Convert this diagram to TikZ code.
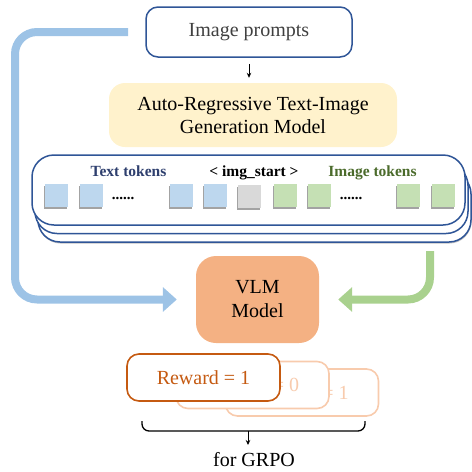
\documentclass[tikz,border=0pt]{standalone}
\usepackage{fontspec}
\setmainfont{Liberation Serif}
\usetikzlibrary{arrows.meta,shadows}
\definecolor{navy}{HTML}{2F5597}
\definecolor{dgray}{HTML}{404040}
\definecolor{yel}{HTML}{FFF2CC}
\definecolor{tokb}{HTML}{BDD7EE}
\definecolor{tokg}{HTML}{C5E0B4}
\definecolor{tokgr}{HTML}{D9D9D9}
\definecolor{flowb}{HTML}{9DC3E6}
\definecolor{flowg}{HTML}{A9D18E}
\definecolor{vlmc}{HTML}{F4B183}
\definecolor{rorange}{HTML}{C55A11}
\definecolor{lsal}{HTML}{F8CBAD}
\definecolor{ttnavy}{HTML}{2E3F6E}
\definecolor{itgreen}{HTML}{4B6B2B}
\begin{document}
\begin{tikzpicture}[x=1pt,y=-1pt,
  box/.style={rectangle, rounded corners=12pt, draw=navy, line width=1.5pt, fill=white, inner sep=0pt},
  stackbox/.style={rectangle, rounded corners=22pt, draw=navy, line width=1.5pt, fill=white, inner sep=0pt, minimum width=433pt, minimum height=70pt},
  tok/.style={rectangle, minimum size=23pt, inner sep=0pt, drop shadow={shadow xshift=-0.6pt, shadow yshift=-2pt, fill=black!45, opacity=0.8}},
  tlab/.style={font=\fontsize{15.5}{18}\selectfont\bfseries, inner sep=0pt, anchor=base},
  dotsn/.style={font=\fontsize{15}{18}\selectfont\bfseries, inner sep=0pt, anchor=base},
  rw/.style={rectangle, rounded corners=12pt, line width=1.6pt, fill=white, minimum width=153pt, minimum height=47pt, font=\fontsize{20}{24}\selectfont},
  flow/.style={line width=8pt, rounded corners=22pt, -{Triangle[length=14pt,width=24pt]}}
]
\useasboundingbox (0,0) rectangle (472,472);

% top
\node[box, minimum width=206pt, minimum height=50pt, text=dgray, font=\fontsize{20}{24}\selectfont] (prompts) at (249,32) {Image prompts};
\node[rectangle, rounded corners=16pt, fill=yel, minimum width=288pt, minimum height=64pt, align=center, inner sep=0pt, font=\fontsize{20}{23}\selectfont] (gen) at (253,115) {Auto-Regressive Text-Image\\Generation Model};
\draw[line width=0.8pt, shorten <=6pt, shorten >=5pt, -{Stealth[length=5pt,width=4.5pt]}] (prompts.south) -- (prompts.south |- gen.north);

% stack
\node[stackbox, drop shadow={shadow xshift=0.5pt, shadow yshift=-1.5pt, fill=black!40, opacity=0.6}] (s3) at (254.5,207) {};
\node[stackbox] (s2) at (251.5,198.5) {};
\node[stackbox] (s1) at (248.5,190) {};

\node[tlab, text=ttnavy] (lt) at (128.5,176) {Text tokens};
\node[tlab] (ls) at (254,176) {< img\_start >};
\node[tlab, text=itgreen] (li) at (372.5,176.5) {Image tokens};

\node[tok, fill=tokb] (t1) at (56.5,195.5) {};
\node[tok, fill=tokb] (t2) at (91.5,195.5) {};
\node[dotsn] (d1) at (123,199) {......};
\node[tok, fill=tokb] (t3) at (181,195.5) {};
\node[tok, fill=tokb] (t4) at (215.5,195.5) {};
\node[tok, fill=tokgr] (t5) at (249.5,196.5) {};
\node[tok, fill=tokg] (t6) at (285,195.5) {};
\node[tok, fill=tokg] (t7) at (319,195.5) {};
\node[dotsn] (d2) at (351,199) {......};
\node[tok, fill=tokg] (t8) at (408.5,195.5) {};
\node[tok, fill=tokg] (t9) at (443.5,195.5) {};

% VLM
\node[rectangle, rounded corners=20pt, fill=vlmc, minimum width=123pt, minimum height=87pt, align=center, inner sep=0pt, font=\fontsize{20}{24}\selectfont] (vlm) at (257.5,299.5) {VLM\\Model};

\coordinate (bstart) at (128,32);
\coordinate (gstart) at (430,251);
\draw[flow, draw=flowb] (bstart) -- (15,32) |- ([xshift=-19pt]vlm.west);
\draw[flow, draw=flowg] (gstart) |- ([xshift=19pt]vlm.east);

% rewards
\node[rw, draw=lsal, text=lsal] (r3) at (302,392.5) {Reward = 1};
\node[rw, draw=lsal, text=lsal] (r2) at (252.5,385) {Reward = 0};
\node[rw, draw=rorange, text=rorange] (r1) at (203.5,377.5) {Reward = 1};

% brace
\coordinate (bl) at (142,421);
\coordinate (br) at (365,421);
\coordinate (bm) at (248,431);
\coordinate (bend) at (248,445);
\draw[line width=1.3pt, rounded corners=7pt] (bl) -- (142,431) -- (365,431) -- (br);
\draw[line width=0.8pt, -{Stealth[length=5pt,width=4.5pt]}] (bm) -- (bend);
\node[font=\fontsize{20}{24}\selectfont, inner sep=0pt] (grpo) at (254,460) {for GRPO};
\end{tikzpicture}
\end{document}
